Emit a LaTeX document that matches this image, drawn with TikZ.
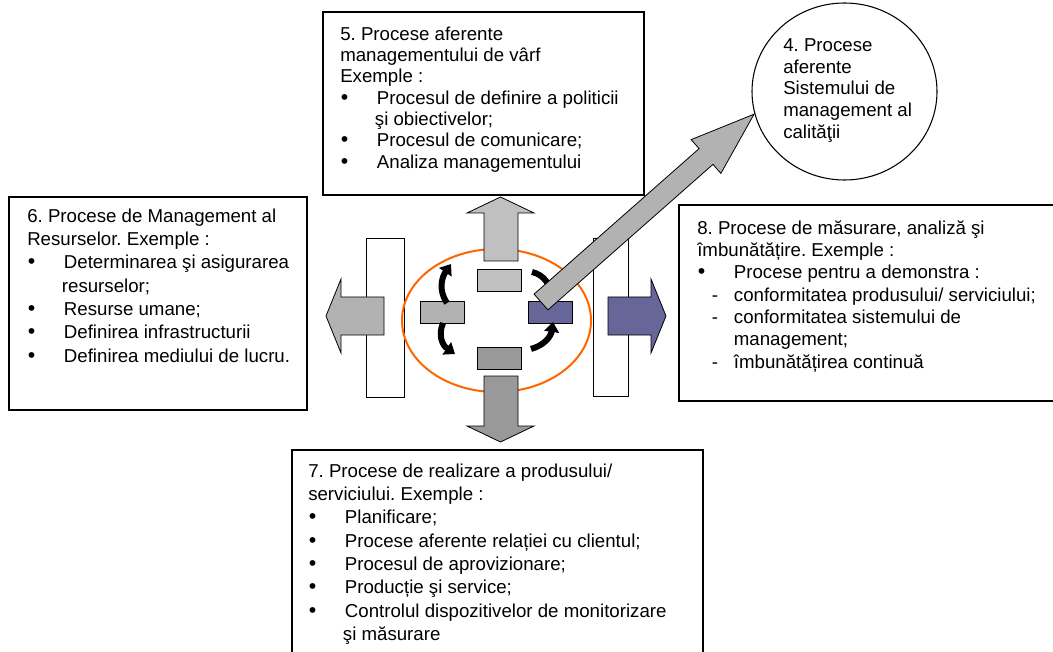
\documentclass[tikz,border=0pt]{standalone}
\usepackage{fontspec}
\setmainfont{Liberation Sans}
\usetikzlibrary{arrows.meta,positioning,shapes.geometric}
\definecolor{graytop}{HTML}{C0C0C0}
\definecolor{grayleft}{HTML}{B2B2B2}
\definecolor{graybottom}{HTML}{999999}
\definecolor{procpurple}{HTML}{666699}
\definecolor{ringorange}{HTML}{FF6600}

\newcommand{\itembul}{\makebox[27.5pt][l]{\hspace{0.5pt}\smash{\fontsize{16}{16}\selectfont •}}}
\newcommand{\itemdash}{\makebox[27.5pt][l]{\hspace{11pt}-}}
\newcommand{\itemgap}{\hspace{26pt}}
\frenchspacing

\begin{document}
\begin{tikzpicture}[x=0.75pt,y=-0.75pt]
	\tikzstyle{frame}=[draw, rectangle, line width=0.8pt, inner sep=0pt, outer sep=0pt]
	\tikzstyle{txt}=[inner sep=0pt, anchor=north west, align=left]
	\tikzstyle{tab}=[draw, rectangle, line width=0.6pt, minimum width=33pt, minimum height=16.5pt, inner sep=0pt]
	\tikzstyle{bar}=[draw, rectangle, fill=white, line width=0.6pt, inner sep=0pt]
	\tikzstyle{blk}=[draw, line width=0.6pt, line join=miter]
	\tikzstyle{cyc}=[line width=4.5pt, -{Triangle[length=7.5pt,width=11pt]}]

	\useasboundingbox (0,0) rectangle (1053,652);

	% centre: bars, ring and block arrows
	\node[bar, minimum width=28.5pt, minimum height=119.25pt] (lbar) at (385,317.5) {};
	\node[bar, minimum width=26.25pt, minimum height=118.5pt] (rbar) at (610.5,317) {};
	\node[draw=ringorange, line width=1.5pt, ellipse, inner sep=0pt, minimum width=141.75pt, minimum height=107.25pt] (ring) at (496.5,320.5) {};

	\filldraw[blk, fill=graytop] (484,261) -- (484,213) -- (467,213) -- (500.5,197) -- (534,213) -- (518,213) -- (518,261) -- cycle;
	\filldraw[blk, fill=graybottom] (484,376) -- (484,426) -- (467,426) -- (500.5,442) -- (534,426) -- (518,426) -- (518,376) -- cycle;
	\filldraw[blk, fill=grayleft] (384,297) -- (341,297) -- (341,279) -- (326,316) -- (341,353) -- (341,335) -- (384,335) -- cycle;
	\filldraw[blk, fill=procpurple] (608,297) -- (651,297) -- (651,279) -- (666,316) -- (651,353) -- (651,335) -- (608,335) -- cycle;

	\node[tab, fill=graytop] (rtop) at (499,280) {};
	\node[tab, fill=grayleft] (rleft) at (442.5,312.5) {};
	\node[tab, fill=procpurple] (rright) at (550,312.5) {};
	\node[tab, fill=graybottom] (rbottom) at (499,358) {};

	% cycle arrows
	\draw[cyc] (447,303) .. controls (438,290) and (442,277) .. (451,264);
	\draw[cyc] (443,323) .. controls (438,335) and (442,345) .. (455,354);
	\draw[cyc] (531,349) .. controls (545,345) and (551,336) .. (553,322);
	\draw[cyc] (532,272) .. controls (545,275) and (550,286) .. (550,301);

	% arrow to the quality system
	\begin{scope}[shift={(541,302)}, rotate=41.4]
		\filldraw[blk, fill=grayleft] (0,-10.5) -- (220,-10.5) -- (220,-22.5) -- (284,0) -- (220,22.5) -- (220,10.5) -- (0,10.5) -- cycle;
	\end{scope}

	% process boxes
	\node[frame, minimum width=240.75pt, minimum height=137.25pt] (b5) at (483.5,103.5) {};
	\node[txt, font=\fontsize{14}{16}\selectfont] (t5) at ([shift={(17,14.5)}]b5.north west) {5. Procese aferente\\
		managementului de vârf\\
		Exemple :\\
		\itembul Procesul de definire a politicii\\
		\itemgap şi obiectivelor;\\
		\itembul Procesul de comunicare;\\
		\itembul Analiza managementului};

	\node[frame, minimum width=223.5pt, minimum height=159.75pt] (b6) at (158,303.5) {};
	\node[txt, font=\fontsize{14}{17.5}\selectfont] (t6) at ([shift={(18,11.4)}]b6.north west) {6. Procese de Management al\\
		Resurselor. Exemple :\\
		\itembul Determinarea şi asigurarea\\
		\itemgap resurselor;\\
		\itembul Resurse umane;\\
		\itembul Definirea infrastructurii\\
		\itembul Definirea mediului de lucru.};

	\node[frame, minimum width=289.5pt, minimum height=147pt] (b8) at (872,303) {};
	\node[txt, font=\fontsize{14}{16.7}\selectfont] (t8) at ([shift={(18,15.4)}]b8.north west) {8. Procese de măsurare, analiză şi\\
		îmbunătățire. Exemple :\\
		\itembul Procese pentru a demonstra :\\
		\itemdash conformitatea produsului/ serviciului;\\
		\itemdash conformitatea sistemului de\\
		\hspace{27.5pt}management;\\
		\itemdash îmbunătățirea continuă};

	\node[frame, minimum width=308.25pt, minimum height=161.25pt] (b7) at (497.5,557.5) {};
	\node[txt, font=\fontsize{14}{17.5}\selectfont] (t7) at ([shift={(16,13.4)}]b7.north west) {7. Procese de realizare a produsului/\\
		serviciului. Exemple :\\
		\itembul Planificare;\\
		\itembul Procese aferente relației cu clientul;\\
		\itembul Procesul de aprovizionare;\\
		\itembul Producție şi service;\\
		\itembul Controlul dispozitivelor de monitorizare\\
		\itemgap şi măsurare};

	\node[draw, ellipse, fill=white, line width=0.8pt, inner sep=0pt, minimum width=138.75pt, minimum height=132.75pt] (p4) at (844.5,91.5) {};
	\node[txt, font=\fontsize{14}{16.3}\selectfont] (t4) at ([shift={(-61.5,-53.1)}]p4.center) {4. Procese\\
		aferente\\
		Sistemului de\\
		management al\\
		calităţii};
\end{tikzpicture}
\end{document}
